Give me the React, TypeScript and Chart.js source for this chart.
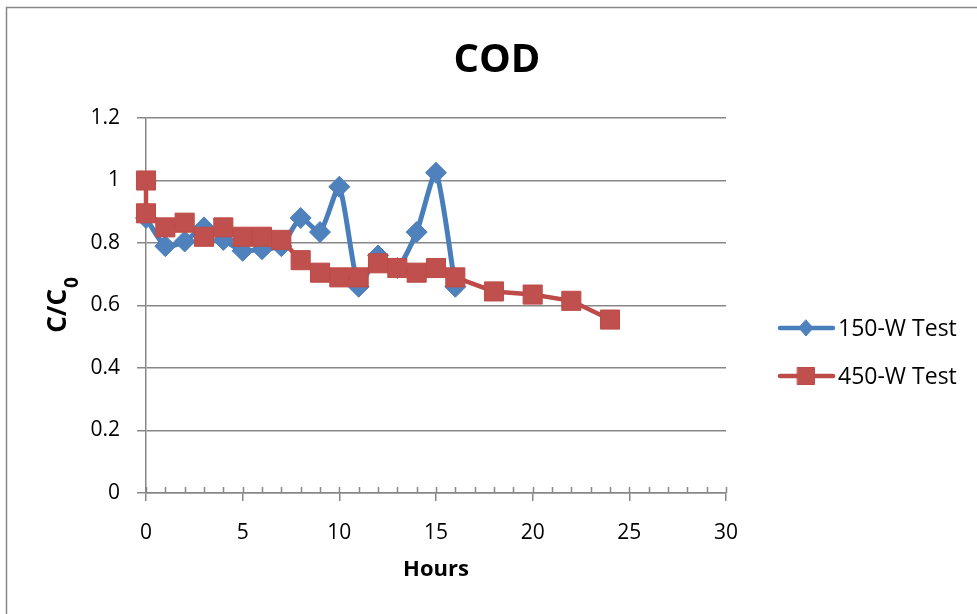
import { useEffect, useRef } from 'react';
import { Chart, registerables } from 'chart.js';
Chart.register(...registerables);

// ---- data ----
const hours150 = [0, 1, 2, 3, 4, 5, 6, 7, 8, 9, 10, 11, 12, 13, 14, 15, 16];
const cod150 = [0.88, 0.79, 0.805, 0.85, 0.81, 0.775, 0.78, 0.79, 0.88, 0.835, 0.98, 0.66, 0.76, 0.72, 0.835, 1.025, 0.66];
const hours450 = [0, 0, 1, 2, 3, 4, 5, 6, 7, 8, 9, 10, 11, 12, 13, 14, 15, 16, 18, 20, 22, 24];
const cod450 = [1.0, 0.895, 0.85, 0.865, 0.82, 0.85, 0.82, 0.82, 0.81, 0.745, 0.705, 0.69, 0.69, 0.735, 0.72, 0.705, 0.72, 0.69, 0.645, 0.635, 0.615, 0.555];
const seriesNames = ['150-W Test', '450-W Test'];
const xTickValues = [0, 5, 10, 15, 20, 25, 30];
const yTickValues = [0, 0.2, 0.4, 0.6, 0.8, 1.0, 1.2];
const chartTitle = 'COD';
const xAxisTitle = 'Hours';
const yAxisTitleMain = 'C/C';
const yAxisTitleSub = '0';

const BLUE_LINE = '#4A7EBB';
const BLUE_FILL = '#4F81BD';
const RED_LINE = '#BE4B48';
const RED_FILL = '#C0504D';
const AXIS_GRAY = '#878787';
const FONT = '"Open Sans", "Liberation Sans", sans-serif';

const decorPlugin = {
  id: 'decor',
  beforeDraw(chart: any) {
    const ctx = chart.ctx;
    ctx.save();
    ctx.strokeStyle = AXIS_GRAY;
    ctx.lineWidth = 1.5;
    ctx.strokeRect(6.5, 7.5, 3000, 3000);
    ctx.restore();
  },
  afterDraw(chart: any) {
    const { ctx, chartArea, scales } = chart;
    const xs = scales.x;
    ctx.save();
    // minor/inside ticks on x axis
    ctx.strokeStyle = AXIS_GRAY;
    ctx.lineWidth = 1.5;
    for (let h = xs.min; h <= xs.max; h += 1) {
      const px = Math.round(xs.getPixelForValue(h)) + 0.5;
      ctx.beginPath();
      ctx.moveTo(px, chartArea.bottom);
      ctx.lineTo(px, chartArea.bottom - 6);
      ctx.stroke();
    }
    // title
    ctx.fillStyle = '#000';
    ctx.textAlign = 'center';
    ctx.textBaseline = 'alphabetic';
    ctx.font = `bold 40px ${FONT}`;
    ctx.fillText(chartTitle, 497, 71.5);
    // x axis title
    ctx.font = `bold 22px ${FONT}`;
    ctx.fillText(xAxisTitle, (chartArea.left + chartArea.right) / 2, 576);
    // y axis title (rotated, with subscript)
    const cy = (chartArea.top + chartArea.bottom) / 2;
    ctx.save();
    ctx.translate(0, cy);
    ctx.rotate(-Math.PI / 2);
    ctx.textAlign = 'left';
    ctx.font = `bold 26px ${FONT}`;
    const wMain = ctx.measureText(yAxisTitleMain).width;
    ctx.font = `bold 19px ${FONT}`;
    const wSub = ctx.measureText(yAxisTitleSub).width;
    const start = -(wMain + wSub) / 2;
    ctx.font = `bold 26px ${FONT}`;
    ctx.fillText(yAxisTitleMain, start, 66);
    ctx.font = `bold 19px ${FONT}`;
    ctx.fillText(yAxisTitleSub, start + wMain + 1, 78);
    ctx.restore();

    // legend
    const items = [
      { name: seriesNames[0], y: 328, base: 336, color: BLUE_LINE, fill: BLUE_FILL, shape: 'diamond' },
      { name: seriesNames[1], y: 376, base: 384, color: RED_LINE, fill: RED_FILL, shape: 'square' },
    ];
    for (const it of items) {
      ctx.strokeStyle = it.color;
      ctx.lineWidth = 4.5;
      ctx.lineCap = 'round';
      ctx.beginPath();
      ctx.moveTo(780, it.y);
      ctx.lineTo(833, it.y);
      ctx.stroke();
      ctx.fillStyle = it.fill;
      ctx.strokeStyle = it.color;
      ctx.lineWidth = 1;
      ctx.beginPath();
      const cx = 806;
      if (it.shape === 'diamond') {
        ctx.moveTo(cx, it.y - 8);
        ctx.lineTo(cx + 7, it.y);
        ctx.lineTo(cx, it.y + 8);
        ctx.lineTo(cx - 7, it.y);
        ctx.closePath();
      } else {
        ctx.rect(cx - 8.5, it.y - 8.5, 17, 17);
      }
      ctx.fill();
      ctx.stroke();
      ctx.fillStyle = '#000';
      ctx.textAlign = 'left';
      ctx.font = `23px ${FONT}`;
      ctx.fillText(it.name, 838, it.base);
    }
    ctx.restore();
  },
};

export default function App() {
  const ref = useRef<HTMLCanvasElement>(null);
  useEffect(() => {
    document.body.style.margin = '0';
    document.body.style.overflow = 'hidden';
    const chart = new Chart(ref.current as HTMLCanvasElement, {
      type: 'line',
      data: {
        datasets: [
          {
            label: seriesNames[1],
            data: hours450.map((h, i) => ({ x: h, y: cod450[i] })),
            order: 0,
            borderColor: RED_LINE,
            borderWidth: 4.5,
            pointStyle: 'rect',
            pointRadius: 13.5,
            pointBackgroundColor: RED_FILL,
            pointBorderColor: RED_LINE,
            pointBorderWidth: 1,
            tension: 0,
            clip: false,
          } as any,
          {
            label: seriesNames[0],
            data: hours150.map((h, i) => ({ x: h, y: cod150[i] })),
            order: 1,
            borderColor: BLUE_LINE,
            borderWidth: 5,
            pointStyle: 'rectRot',
            pointRadius: 10.5,
            pointBackgroundColor: BLUE_FILL,
            pointBorderColor: BLUE_LINE,
            pointBorderWidth: 1,
            tension: 0.2,
            clip: false,
          } as any,
        ],
      },
      options: {
        responsive: false,
        animation: false,
        devicePixelRatio: 1,
        events: [],
        layout: { padding: { left: 0, right: 251, top: 118, bottom: 0 } },
        plugins: { legend: { display: false }, title: { display: false }, tooltip: { enabled: false } },
        scales: {
          x: {
            type: 'linear',
            min: 0,
            max: 30,
            afterFit: (s: any) => { s.height = 121; },
            afterBuildTicks: (s: any) => { s.ticks = xTickValues.map((v) => ({ value: v })); },
            grid: { display: true, drawOnChartArea: false, drawTicks: true, tickLength: 8, color: AXIS_GRAY, lineWidth: 1.5 },
            border: { display: true, color: AXIS_GRAY, width: 1.5 },
            ticks: { font: { family: FONT, size: 21 }, color: '#000', padding: 19, maxRotation: 0, autoSkip: false, callback: (v: any) => String(v) },
            title: { display: false },
          },
          y: {
            type: 'linear',
            min: 0,
            max: 1.2,
            afterFit: (s: any) => { s.width = 146; },
            afterBuildTicks: (s: any) => { s.ticks = yTickValues.map((v) => ({ value: v })); },
            grid: { display: true, drawTicks: true, tickLength: 9, color: AXIS_GRAY, lineWidth: 1.5 },
            border: { display: true, color: AXIS_GRAY, width: 1.5 },
            ticks: { font: { family: FONT, size: 21 }, color: '#000', padding: 17, callback: (v: any) => String(Math.round(v * 10) / 10) },
            title: { display: false },
          },
        },
      } as any,
      plugins: [decorPlugin],
    });
    return () => chart.destroy();
  }, []);
  return (
    <div style={{ width: 977, height: 614, position: 'relative', overflow: 'hidden', background: '#fff' }}>
      <canvas ref={ref} width={977} height={614} style={{ display: 'block' }} />
    </div>
  );
}
